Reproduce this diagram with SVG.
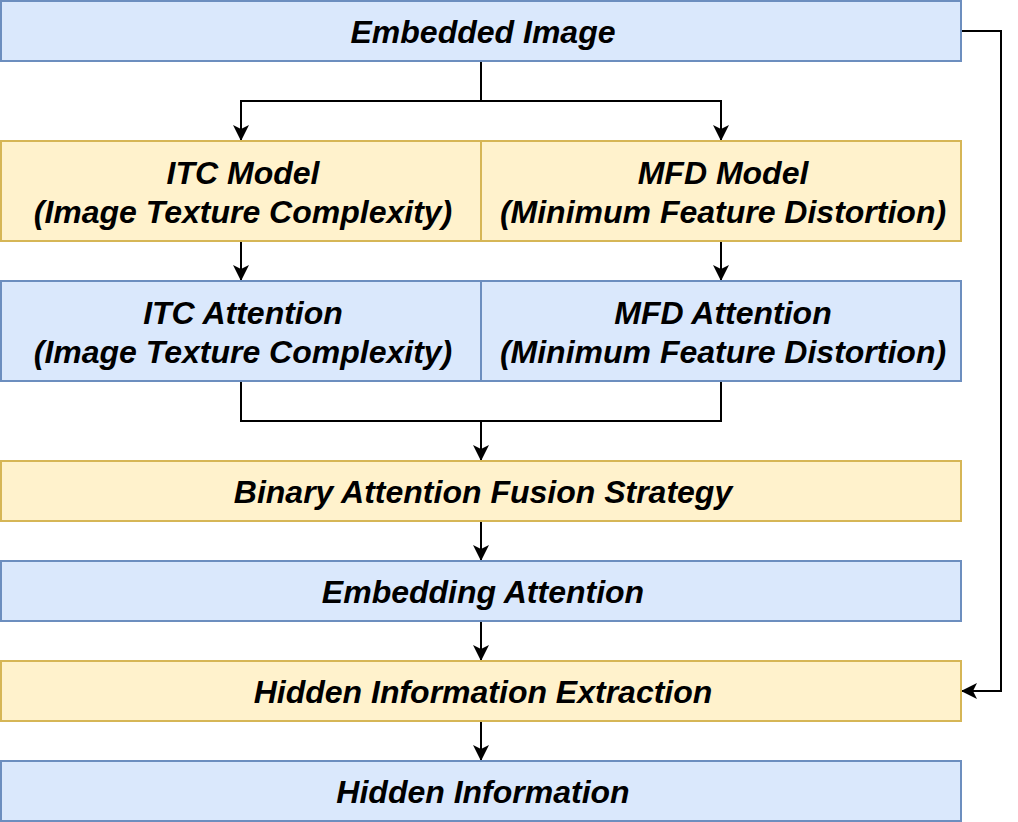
<svg xmlns="http://www.w3.org/2000/svg" width="1018" height="822" viewBox="0 0 1018 822">
<style>
.b{fill:#dae8fc;stroke:#6c8ebf;stroke-width:2}
.y{fill:#fff2cc;stroke:#d6b656;stroke-width:2}
text{font-family:"Liberation Sans",Arial,sans-serif;font-size:32px;font-weight:bold;font-style:italic;fill:#000;text-anchor:middle}
.c{fill:none;stroke:#000;stroke-width:2}
</style>
<defs>
<marker id="a" viewBox="0 0 16 16" refX="15" refY="8" markerWidth="16" markerHeight="16" markerUnits="userSpaceOnUse" orient="auto">
<path d="M0,0 L16,8 L0,16 L4,8 Z" fill="#000"/>
</marker>
</defs>
<rect width="1018" height="822" fill="#fff"/>
<g id="connectors">
<path class="c" d="M481,61 V101 H241 V140" marker-end="url(#a)"/>
<path class="c" d="M481,101 H721 V140" marker-end="url(#a)"/>
<path class="c" d="M241,241 V280" marker-end="url(#a)"/>
<path class="c" d="M721,241 V280" marker-end="url(#a)"/>
<path class="c" d="M241,381 V421 H721 V381"/>
<path class="c" d="M481,421 V460" marker-end="url(#a)"/>
<path class="c" d="M481,521 V560" marker-end="url(#a)"/>
<path class="c" d="M481,621 V660" marker-end="url(#a)"/>
<path class="c" d="M481,721 V760" marker-end="url(#a)"/>
<path class="c" d="M961,31 H1001 V691 H962" marker-end="url(#a)"/>
</g>
<g id="embedded-image"><rect class="b" x="1" y="1" width="960" height="60"/><text x="483" y="43">Embedded Image</text></g>
<g id="itc-model"><rect class="y" x="1" y="141" width="480" height="100"/><text x="243" y="184">ITC Model</text><text x="243" y="223">(Image Texture Complexity)</text></g>
<g id="mfd-model"><rect class="y" x="481" y="141" width="480" height="100"/><text x="723" y="184">MFD Model</text><text x="723" y="223">(Minimum Feature Distortion)</text></g>
<g id="itc-attention"><rect class="b" x="1" y="281" width="480" height="100"/><text x="243" y="324">ITC Attention</text><text x="243" y="363">(Image Texture Complexity)</text></g>
<g id="mfd-attention"><rect class="b" x="481" y="281" width="480" height="100"/><text x="723" y="324">MFD Attention</text><text x="723" y="363">(Minimum Feature Distortion)</text></g>
<g id="binary-fusion"><rect class="y" x="1" y="461" width="960" height="60"/><text x="483" y="503">Binary Attention Fusion Strategy</text></g>
<g id="embedding-attention"><rect class="b" x="1" y="561" width="960" height="60"/><text x="483" y="603">Embedding Attention</text></g>
<g id="hidden-extraction"><rect class="y" x="1" y="661" width="960" height="60"/><text x="483" y="703">Hidden Information Extraction</text></g>
<g id="hidden-information"><rect class="b" x="1" y="761" width="960" height="60"/><text x="483" y="803">Hidden Information</text></g>
</svg>
